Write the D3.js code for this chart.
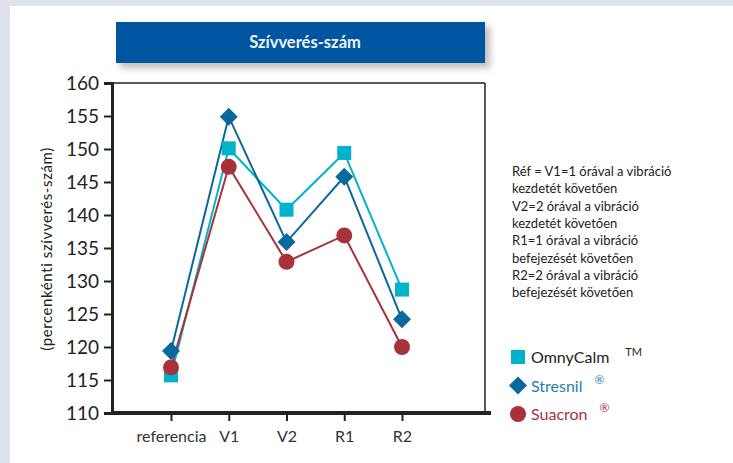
<!DOCTYPE html>
<html><head><meta charset="utf-8">
<script src="https://cdn.jsdelivr.net/npm/d3@7"></script>
<style>
html,body{margin:0;padding:0;background:#dfe1ef;}
svg{display:block;}
</style></head>
<body>
<svg id="c" width="733" height="463"></svg>
<script>
const categories = ["referencia","V1","V2","R1","R2"];
const omnyCalm = [115.7,150.1,140.8,149.4,128.7];
const stresnil = [119.4,154.9,135.9,145.8,124.2];
const suacron  = [116.9,147.3,132.9,136.9,120.0];
const yTicks = [110,115,120,125,130,135,140,145,150,155,160];
const notes = ["Réf = V1=1 órával a vibráció","kezdetét követően","V2=2 órával a vibráció","kezdetét követően","R1=1 órával a vibráció","befejezését követően","R2=2 órával a vibráció","befejezését követően"];
const series = [
  {name:"OmnyCalm", sup:"TM", values:omnyCalm, color:"#00b3cb", text:"#222", shape:"square"},
  {name:"Stresnil", sup:"®", values:stresnil, color:"#0a689c", text:"#1e7db3", shape:"diamond"},
  {name:"Suacron", sup:"®", values:suacron, color:"#a8323a", text:"#a8323a", shape:"circle"}
];

const svg = d3.select("#c");
const font = "Lato, 'Open Sans', sans-serif";
// panel
svg.append("rect").attr("x",10).attr("y",6).attr("width",723).attr("height",457).attr("fill","#fff");

// title shadow
const defs = svg.append("defs");
const f = defs.append("filter").attr("id","sh").attr("x","-10%").attr("y","-30%").attr("width","130%").attr("height","180%");
f.append("feGaussianBlur").attr("stdDeviation",3.5);
svg.append("rect").attr("x",120).attr("y",26).attr("width",370).attr("height",42).attr("fill","#888").attr("opacity",0.55).attr("filter","url(#sh)");
svg.append("rect").attr("x",116).attr("y",22).attr("width",369).attr("height",41).attr("fill","#0055a0");
svg.append("text").attr("x",305).attr("y",48).attr("text-anchor","middle").attr("fill","#eef2f8")
  .attr("font-family",font).attr("font-weight","bold").attr("font-size",16.5).text("Szívverés-szám");

const L=112, R=485, T=83, B=413;
const x = d3.scalePoint().domain(categories).range([171,402]);
const y = d3.scaleLinear().domain([110,160]).range([B,T]);

// box
svg.append("line").attr("x1",L).attr("x2",R).attr("y1",T).attr("y2",T).attr("stroke","#222").attr("stroke-width",1.5);
svg.append("line").attr("x1",R).attr("x2",R).attr("y1",T).attr("y2",B).attr("stroke","#222").attr("stroke-width",1.5);

// y axis
const ya = svg.append("g").attr("transform",`translate(${L},0)`)
  .call(d3.axisLeft(y).tickValues(yTicks).tickSize(8).tickPadding(5));
ya.select(".domain").attr("stroke","#222").attr("stroke-width",3);
ya.selectAll(".tick line").attr("stroke","#222").attr("stroke-width",2);
ya.selectAll(".tick text").attr("font-family",font).attr("font-size",19).attr("fill","#222");

// x axis
const xa = svg.append("g").attr("transform",`translate(0,${B})`)
  .call(d3.axisBottom(x).tickSize(8).tickPadding(10).tickSizeOuter(0));
xa.select(".domain").attr("d",`M${L-1},0H${R+6}`).attr("stroke","#222").attr("stroke-width",4);
xa.selectAll(".tick line").attr("stroke","#222").attr("stroke-width",2);
xa.selectAll(".tick text").attr("font-family",font).attr("font-size",16).attr("fill","#333");

// y label
svg.append("text").attr("transform","translate(52,249) rotate(-90)").attr("text-anchor","middle")
  .attr("font-family",font).attr("font-size",15).attr("letter-spacing",0.6).attr("fill","#222").text("(percenkénti szívverés-szám)");

function marker(g, shape, color){
  if(shape==="square") g.append("rect").attr("x",-7).attr("y",-7).attr("width",14).attr("height",14).attr("fill",color);
  else if(shape==="diamond") g.append("path").attr("d","M0,-9L9,0L0,9L-9,0Z").attr("fill",color);
  else g.append("circle").attr("r",8).attr("fill",color);
}

const line = d3.line().x((d,i)=>x(categories[i])).y(d=>y(d));
series.forEach(s=>{
  svg.append("path").attr("d",line(s.values)).attr("fill","none").attr("stroke",s.color).attr("stroke-width",2);
});
series.forEach(s=>{
  s.values.forEach((v,i)=>{
    const g = svg.append("g").attr("transform",`translate(${x(categories[i])},${y(v)})`);
    marker(g,s.shape,s.color);
  });
});

// notes
svg.append("g").selectAll("text").data(notes).join("text")
  .attr("x",512).attr("y",(d,i)=>176+i*17.3)
  .attr("font-family",font).attr("font-size",13).attr("fill","#222").text(d=>d);

// legend
series.forEach((s,i)=>{
  const cy = 357+i*28.5;
  const g = svg.append("g").attr("transform",`translate(518,${cy})`);
  marker(g,s.shape,s.color);
  const t = svg.append("text").attr("x",531).attr("y",cy+6).attr("font-family",font).attr("font-size",16)
    .attr("fill",s.text).text(s.name);
  const w = t.node().getComputedTextLength();
  svg.append("text").attr("x",531+w+(i===0?16:12)).attr("y",cy-(i===0?1:2)).attr("font-family",font).attr("font-size",i===0?11:12)
    .attr("fill",s.text).text(s.sup);
});
</script>
</body></html>
